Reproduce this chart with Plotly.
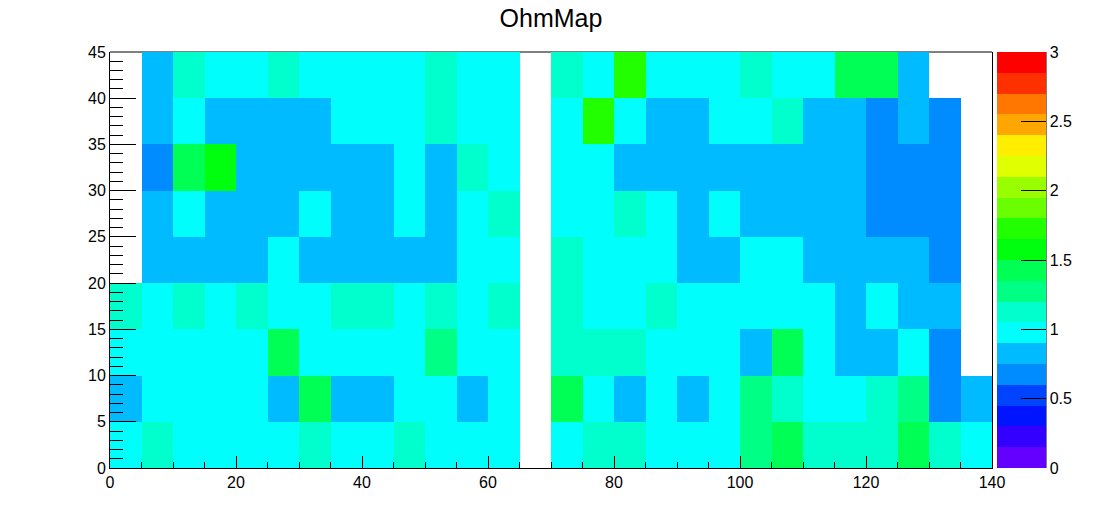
import colorsys
import plotly.graph_objects as go

# ---- data ----
x_edges = list(range(0, 145, 5))
y_edges = list(range(0, 50, 5))

row_y0  = [0.97, 1.12, 0.97, 0.97, 0.97, 0.97, 1.12, 0.97, 0.97, 1.12, 0.97, 0.97, 0.97, None, 0.97, 1.12, 1.12, 0.97, 0.97, 0.97, 1.28, 1.43, 1.12, 1.12, 1.12, 1.43, 1.12, 0.97]
row_y5  = [0.83, 0.97, 0.97, 0.97, 0.97, 0.83, 1.43, 0.83, 0.83, 0.97, 0.97, 0.83, 0.97, None, 1.43, 0.97, 0.83, 0.97, 0.83, 0.97, 1.28, 1.12, 0.97, 0.97, 1.12, 1.28, 0.68, 0.83]
row_y10 = [0.97, 0.97, 0.97, 0.97, 0.97, 1.43, 0.97, 0.97, 0.97, 0.97, 1.28, 0.97, 0.97, None, 1.12, 1.12, 1.12, 0.97, 0.97, 0.97, 0.83, 1.43, 0.97, 0.83, 0.83, 0.97, 0.68, None]
row_y15 = [1.12, 0.97, 1.12, 0.97, 1.12, 0.97, 0.97, 1.12, 1.12, 0.97, 1.12, 0.97, 1.12, None, 1.12, 0.97, 0.97, 1.12, 0.97, 0.97, 0.97, 0.97, 0.97, 0.83, 0.97, 0.83, 0.83, None]
row_y20 = [None, 0.83, 0.83, 0.83, 0.83, 0.97, 0.83, 0.83, 0.83, 0.83, 0.83, 0.97, 0.97, None, 1.12, 0.97, 0.97, 0.97, 0.83, 0.83, 0.97, 0.97, 0.83, 0.83, 0.83, 0.83, 0.68, None]
row_y25 = [None, 0.83, 0.97, 0.83, 0.83, 0.83, 0.97, 0.83, 0.83, 0.97, 0.83, 0.97, 1.12, None, 0.97, 0.97, 1.12, 0.97, 0.83, 0.97, 0.83, 0.83, 0.83, 0.83, 0.68, 0.68, 0.68, None]
row_y30 = [None, 0.68, 1.43, 1.58, 0.83, 0.83, 0.83, 0.83, 0.83, 0.97, 0.83, 1.12, 0.97, None, 0.97, 0.97, 0.83, 0.83, 0.83, 0.83, 0.83, 0.83, 0.83, 0.83, 0.68, 0.68, 0.68, None]
row_y35 = [None, 0.83, 0.97, 0.83, 0.83, 0.83, 0.83, 0.97, 0.97, 0.97, 1.12, 0.97, 0.97, None, 0.97, 1.72, 0.97, 0.83, 0.83, 0.97, 0.97, 1.12, 0.83, 0.83, 0.68, 0.83, 0.68, None]
row_y40 = [None, 0.83, 1.12, 0.97, 0.97, 1.12, 0.97, 0.97, 0.97, 0.97, 1.12, 0.97, 0.97, None, 1.12, 0.97, 1.72, 0.97, 0.97, 0.97, 1.12, 0.97, 0.97, 1.43, 1.43, 0.83, None, None]

z_rows = [row_y0, row_y5, row_y10, row_y15, row_y20, row_y25, row_y30, row_y35, row_y40]

z_min, z_max = 0, 3
n_levels = 20
cbar_ticks = [0, 0.5, 1, 1.5, 2, 2.5, 3]
cbar_labels = ["0", "0.5", "1", "1.5", "2", "2.5", "3"]
x_ticks = [0, 20, 40, 60, 80, 100, 120, 140]
y_ticks = [0, 5, 10, 15, 20, 25, 30, 35, 40, 45]

# ---- ROOT "pretty" palette (50 hues), sampled by 20 contours ----
def hue_color(h):
    r, g, b = colorsys.hls_to_rgb(h / 360.0, 0.5, 1.0)
    return "rgb(%d,%d,%d)" % (round(r * 255), round(g * 255), round(b * 255))

pretty = [hue_color(280 - (i + 1) * 280 / 50) for i in range(50)]
level_colors = [pretty[int((k + 0.99) * 50 / n_levels)] for k in range(n_levels)]
colorscale = []
for k, c in enumerate(level_colors):
    colorscale.append([k / n_levels, c])
    colorscale.append([(k + 1) / n_levels, c])

FONT = "Liberation Sans, Arial, Helvetica, sans-serif"

fig = go.Figure(go.Heatmap(
    x=x_edges, y=y_edges, z=z_rows,
    zmin=z_min, zmax=z_max, colorscale=colorscale,
    hoverongaps=False,
    colorbar=dict(
        x=(997 - 110) / 882, xanchor="left", xpad=0,
        y=0.5, yanchor="middle", ypad=0,
        len=1, lenmode="fraction",
        thickness=49, thicknessmode="pixels",
        outlinewidth=0,
        tickmode="array", tickvals=cbar_ticks, ticktext=cbar_labels,
        ticks="inside", ticklen=25, tickcolor="black", tickwidth=1,
        tickfont=dict(family=FONT, size=16, color="black"),
    ),
))

fig.update_layout(
    width=1102, height=522,
    margin=dict(l=110, r=110, t=52, b=54, autoexpand=False),
    paper_bgcolor="white", plot_bgcolor="white",
    title=dict(text="OhmMap", x=0.5, xanchor="center", y=1 - 18 / 522, yanchor="middle",
               font=dict(family=FONT, size=25, color="black")),
    xaxis=dict(range=[0, 140], tickmode="array", tickvals=x_ticks,
               ticks="inside", ticklen=12, tickcolor="black", tickwidth=1,
               minor=dict(dtick=5, ticklen=6, ticks="inside", tickcolor="black", tickwidth=1),
               showline=True, linecolor="black", linewidth=1, mirror=False,
               showgrid=False, zeroline=False,
               tickfont=dict(family=FONT, size=16, color="black")),
    yaxis=dict(range=[0, 45], tickmode="array", tickvals=y_ticks,
               ticks="inside", ticklen=26, tickcolor="black", tickwidth=1,
               minor=dict(dtick=1, ticklen=13, ticks="inside", tickcolor="black", tickwidth=1),
               showline=True, linecolor="black", linewidth=1, mirror=True,
               showgrid=False, zeroline=False,
               tickfont=dict(family=FONT, size=16, color="black")),
    shapes=[
        dict(type="line", xref="paper", yref="paper", x0=0, x1=1, y0=1, y1=1,
             line=dict(color="black", width=1), layer="below"),
        dict(type="line", xref="paper", yref="paper",
             x0=(1046 - 110) / 882, x1=(1046 - 110) / 882, y0=0, y1=1,
             line=dict(color="black", width=1), layer="above"),
    ],
)

fig.write_html("out.html")
